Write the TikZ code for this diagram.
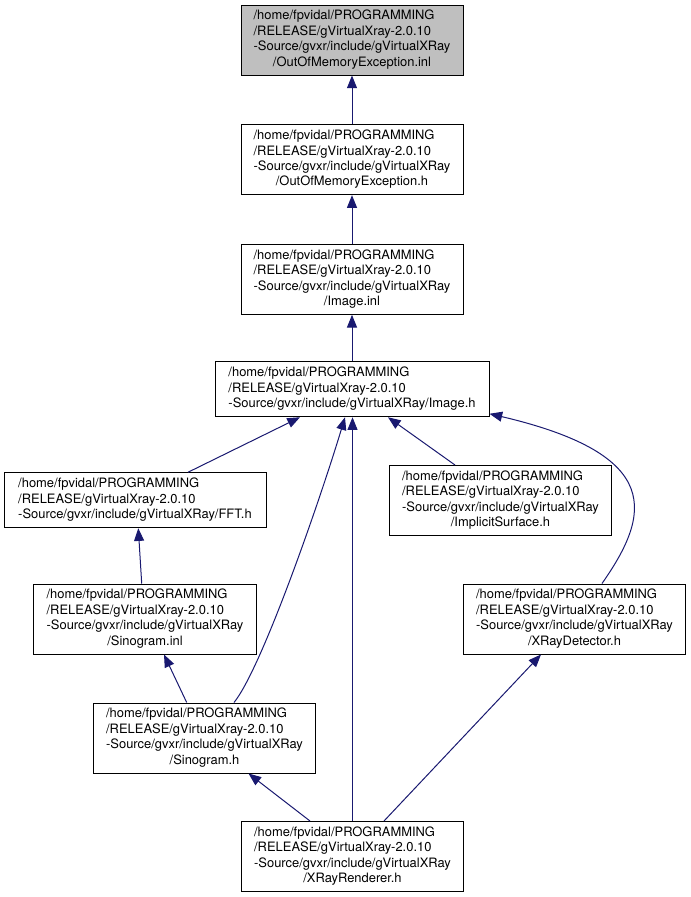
\documentclass[tikz,border=0pt]{standalone}
\usepackage{fontspec}
\setmainfont{TeX Gyre Heros}
\usepackage{xcolor}
\usetikzlibrary{arrows.meta, positioning, calc}

\definecolor{edgeblue}{HTML}{191970}
\definecolor{rootgray}{HTML}{BFBFBF}

% four-line file label, last line centred
\newcommand{\gvxrlong}[1]{\begin{tabular}{@{}l@{}}/home/fpvidal/PROGRAMMING\\/RELEASE/gVirtualXray-2.0.10\\-Source/gvxr/include/gVirtualXRay\\\multicolumn{1}{@{}c@{}}{#1}\end{tabular}}
% three-line file label
\newcommand{\gvxrshort}[1]{\begin{tabular}{@{}l@{}}/home/fpvidal/PROGRAMMING\\/RELEASE/gVirtualXray-2.0.10\\-Source/gvxr/include/gVirtualXRay#1\end{tabular}}

\begin{document}
\begin{tikzpicture}[
    x=0.75pt, y=-0.75pt,
    node distance=36.5pt,
    file/.style={rectangle, draw, line width=0.75pt, inner sep=0pt, minimum width=167pt, minimum height=52.5pt, font=\fontsize{9.7}{11.6}\selectfont},
    widefile/.style={file, minimum height=41.25pt},
    arrow/.style={{Triangle[length=9.5pt, width=7.5pt]}-, draw=edgeblue, line width=0.75pt}
]
    \useasboundingbox (0,0) rectangle (691,897);

    % Nodes
    \node[file, fill=rootgray, minimum width=166.5pt] (oomInl) at (352,40) {\gvxrlong{/OutOfMemoryException.inl}};
    \node[file, minimum width=166.5pt, below=of oomInl] (oomH) {\gvxrlong{/OutOfMemoryException.h}};
    \node[file, minimum width=166.5pt, below=of oomH] (imageInl) {\gvxrlong{/Image.inl}};
    \node[widefile, minimum width=205.5pt] (imageH) at (352,389.25) {\gvxrshort{/Image.h}};
    \node[widefile, minimum width=196.5pt] (fftH) at (135,500.25) {\gvxrshort{/FFT.h}};
    \node[file] (implicitH) at (500.5,500.5) {\gvxrlong{/ImplicitSurface.h}};
    \node[file] (sinoInl) at (145,619) {\gvxrlong{/Sinogram.inl}};
    \node[file] (detectorH) at (574.5,619) {\gvxrlong{/XRayDetector.h}};
    \node[file] (sinoH) at (204.5,738) {\gvxrlong{/Sinogram.h}};
    \node[file] (rendererH) at (352.5,856.5) {\gvxrlong{/XRayRenderer.h}};

    % Arrows
    \draw[arrow] (oomInl.south) -- (oomH.north);
    \draw[arrow] (oomH.south) -- (imageInl.north);
    \draw[arrow] (imageInl.south) -- (imageInl.south |- imageH.north);
    \draw[arrow] ($(imageH.south)+(-52,0)$) -- ($(fftH.north)+(53,0)$);
    \draw[arrow] ($(imageH.south)+(36,0)$) -- ($(implicitH.north)+(-45.5,0)$);
    \draw[arrow] ($(imageH.south east)+(0,-3.5)$) .. controls (665,455) and (650,515) .. ($(detectorH.north)+(27.5,0)$);
    \draw[arrow] ($(imageH.south)+(-7,0)$) .. controls (320,500) and (262,668) .. ($(sinoH.north)+(29.5,0)$);
    \draw[arrow] (imageH.south -| rendererH.north) -- (rendererH.north);
    \draw[arrow] ($(fftH.south)+(3.3,0)$) -- ($(sinoInl.north)+(-3.3,0)$);
    \draw[arrow] ($(sinoInl.south)+(19,0)$) -- ($(sinoH.north)+(-17.8,0)$);
    \draw[arrow] ($(sinoH.south)+(44,0)$) -- ($(rendererH.north)+(-42.5,0)$);
    \draw[arrow] ($(detectorH.south)+(-33.5,0)$) -- ($(rendererH.north)+(31.5,0)$);

\end{tikzpicture}
\end{document}
